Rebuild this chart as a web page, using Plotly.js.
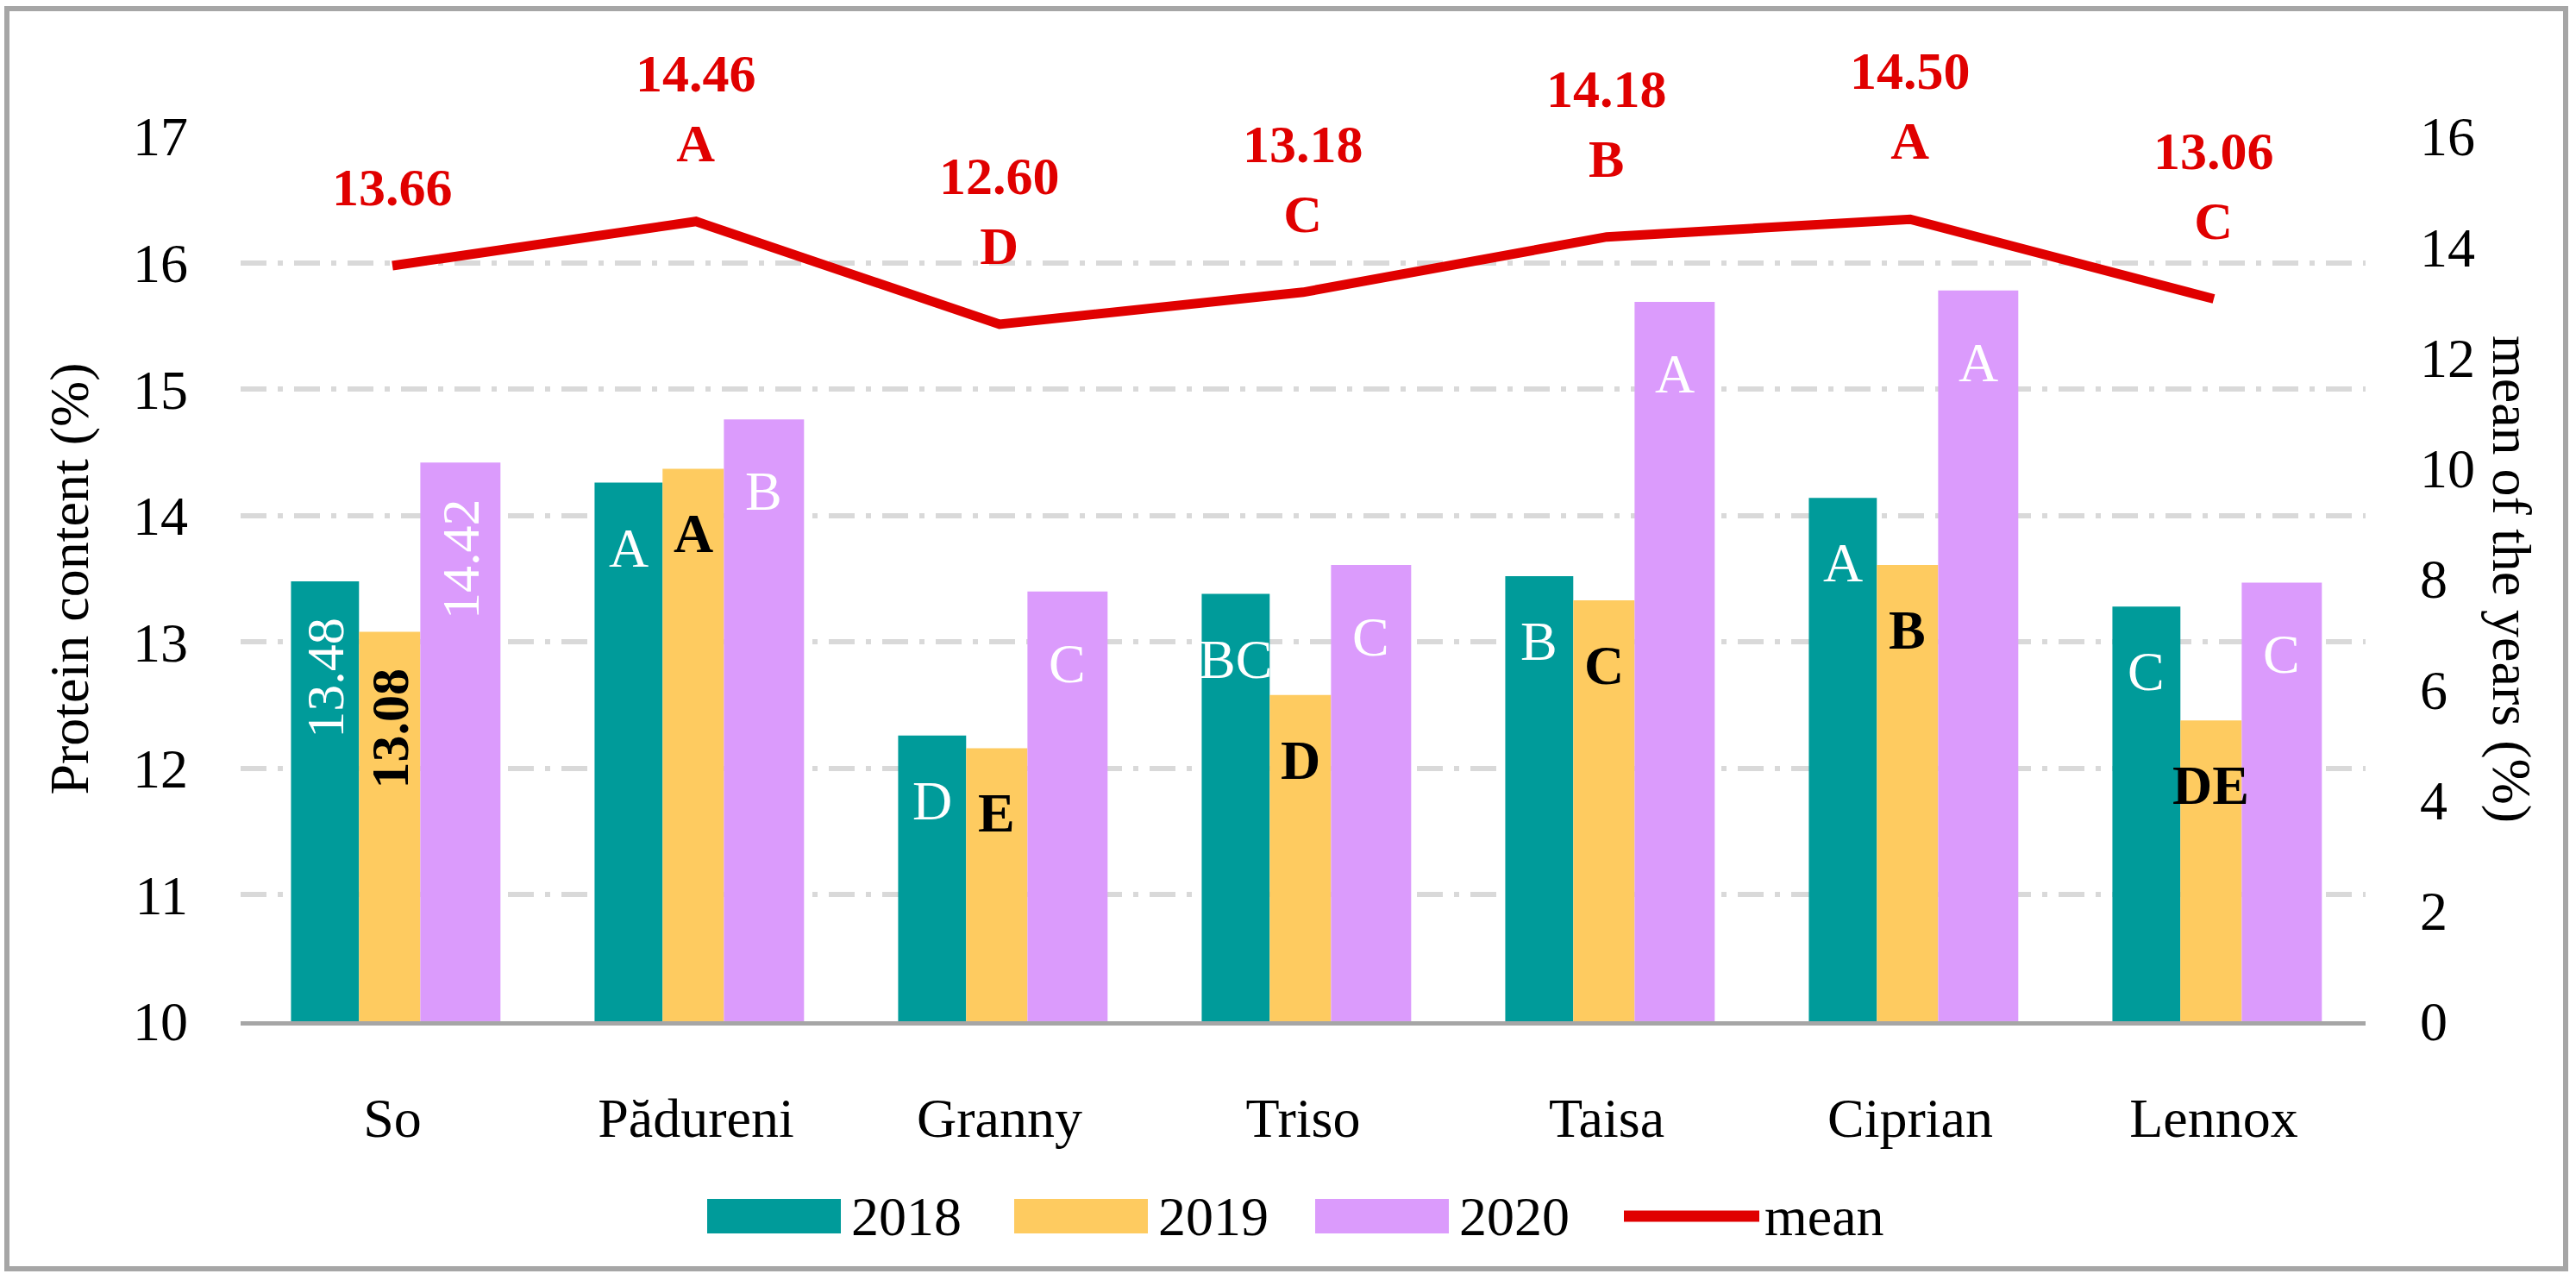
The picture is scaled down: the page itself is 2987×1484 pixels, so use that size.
<!DOCTYPE html>
<html>
<head>
<meta charset="utf-8">
<script src="https://cdn.plot.ly/plotly-3.0.1.min.js"></script>
<style>
  body { margin: 0; background: #fff; }
  #chart { width: 2987px; height: 1484px; }
</style>
</head>
<body>
<div id="chart"></div>
<script>
var categories = ['So', 'Pădureni', 'Granny', 'Triso', 'Taisa', 'Ciprian', 'Lennox'];
var years = ['2018', '2019', '2020'];
var protein2018 = [13.48, 14.26, 12.26, 13.38, 13.52, 14.14, 13.28];
var protein2019 = [13.08, 14.37, 12.16, 12.58, 13.33, 13.61, 12.38];
var protein2020 = [14.42, 14.76, 13.40, 13.61, 15.69, 15.78, 13.47];
var meanYears = [13.66, 14.46, 12.60, 13.18, 14.18, 14.50, 13.06];
// significance letters, null = the value itself is printed instead
var letters2018 = [null, 'A', 'D', 'BC', 'B', 'A', 'C'];
var letters2019 = [null, 'A', 'E', 'D', 'C', 'B', 'DE'];
var letters2020 = [null, 'B', 'C', 'C', 'A', 'A', 'C'];
var lettersMean = [null, 'A', 'D', 'C', 'B', 'A', 'C'];

var FONT = 'Palatino Linotype, Book Antiqua, Liberation Serif, serif';
var RED = '#e00000';

// plot area in pixels
var L = 279, T = 158, W = 2464, H = 1026;
function px(x) { return (x - L) / W; }
function py(y) { return (T + H - y) / H; }

var series = [
  {name: years[0], y: protein2018, letters: letters2018, color: '#009b9a', text: '#ffffff', bold: false, offset: -0.334, width: 0.224, shift: -38},
  {name: years[1], y: protein2019, letters: letters2019, color: '#fecb60', text: '#000000', bold: true, offset: -0.110, width: 0.202, shift: -38},
  {name: years[2], y: protein2020, letters: letters2020, color: '#db9bfc', text: '#ffffff', bold: false, offset: 0.092, width: 0.264, shift: -46}
];

var data = series.map(function (s) {
  return {
    type: 'bar',
    name: s.name,
    x: categories,
    y: s.y,
    offset: s.offset,
    width: s.width,
    marker: {color: s.color},
    hoverinfo: 'x+y+name'
  };
});

data.push({
  type: 'scatter',
  mode: 'lines',
  name: 'mean',
  x: categories,
  y: meanYears,
  yaxis: 'y2',
  line: {color: RED, width: 11},
  hoverinfo: 'x+y'
});

var annotations = [];
series.forEach(function (s) {
  var wt = s.bold ? 'bold' : 'normal';
  s.y.forEach(function (v, i) {
    var xc = i + s.offset + s.width / 2;
    if (s.letters[i] === null) {
      annotations.push({
        xref: 'x', yref: 'y', x: xc, y: v,
        text: v.toFixed(2), textangle: -90,
        xanchor: 'center', yanchor: 'top', yshift: -40,
        showarrow: false,
        font: {family: FONT, size: 62, color: s.text, weight: wt}
      });
    } else {
      annotations.push({
        xref: 'x', yref: 'y', x: xc, y: v,
        text: s.letters[i],
        xanchor: 'center', yanchor: 'top', yshift: s.shift,
        showarrow: false,
        font: {family: FONT, size: 64, color: s.text, weight: wt}
      });
    }
  });
});

meanYears.forEach(function (v, i) {
  var txt = '<b>' + v.toFixed(2) + '</b>';
  if (lettersMean[i]) txt += '<br><b>' + lettersMean[i] + '</b>';
  annotations.push({
    xref: 'x', yref: 'y2', x: i, y: v,
    text: txt,
    xanchor: 'center', yanchor: 'bottom', yshift: 55,
    showarrow: false,
    font: {family: FONT, size: 62, color: RED}
  });
});

// right axis title reads top to bottom
annotations.push({
  xref: 'paper', yref: 'paper', x: px(2913), y: 0.5,
  text: 'mean of the years (%)', textangle: 90,
  xanchor: 'center', yanchor: 'middle', showarrow: false,
  font: {family: FONT, size: 64, color: '#000'}
});

// legend drawn by hand to get the wide swatches
var shapes = [];
var legendX = [820, 1176, 1525, 1879];
var legendY = 1410;
var swW = 155, swH = 40;
var legendItems = series.map(function (s) { return {name: s.name, color: s.color, kind: 'box'}; });
legendItems.push({name: 'mean', color: RED, kind: 'line'});
legendItems.forEach(function (it, k) {
  var x0 = legendX[k];
  if (it.kind === 'box') {
    shapes.push({
      type: 'rect', xref: 'paper', yref: 'paper',
      x0: px(x0), x1: px(x0 + swW), y0: py(legendY + swH / 2), y1: py(legendY - swH / 2),
      fillcolor: it.color, line: {width: 0}
    });
  } else {
    shapes.push({
      type: 'line', xref: 'paper', yref: 'paper',
      x0: px(x0 + 4), x1: px(x0 + swW + 6), y0: py(legendY), y1: py(legendY),
      line: {color: it.color, width: 13}
    });
  }
  annotations.push({
    xref: 'paper', yref: 'paper', x: px(x0 + swW + 10), y: py(legendY),
    text: it.name, xanchor: 'left', yanchor: 'middle', showarrow: false,
    font: {family: FONT, size: 64, color: '#000'}
  });
});

// outer frame
shapes.push({
  type: 'rect', xref: 'paper', yref: 'paper',
  x0: px(8), x1: px(2975), y0: py(1471), y1: py(10),
  line: {color: '#a6a6a6', width: 6}, fillcolor: 'rgba(0,0,0,0)'
});

var layout = {
  width: 2987,
  height: 1484,
  margin: {l: L, r: 2987 - L - W, t: T, b: 1484 - T - H},
  paper_bgcolor: '#ffffff',
  plot_bgcolor: '#ffffff',
  showlegend: false,
  barmode: 'group',
  font: {family: FONT, size: 64, color: '#000'},
  xaxis: {
    type: 'category',
    showline: true,
    linecolor: '#a6a6a6',
    linewidth: 5,
    showgrid: false,
    ticks: '',
    ticklabelstandoff: 52,
    tickfont: {family: FONT, size: 64, color: '#000'}
  },
  yaxis: {
    range: [10, 17],
    dtick: 1,
    showline: false,
    zeroline: false,
    showgrid: true,
    gridcolor: '#d9d9d9',
    gridwidth: 6,
    griddash: '30px,13px,6px,13px',
    ticks: '',
    ticklabelstandoff: 60,
    tickfont: {family: FONT, size: 64, color: '#000'},
    title: {text: 'Protein content (%)', standoff: 30, font: {family: FONT, size: 64, color: '#000'}}
  },
  yaxis2: {
    overlaying: 'y',
    side: 'right',
    range: [0, 16],
    dtick: 2,
    showgrid: false,
    zeroline: false,
    showline: false,
    ticks: '',
    ticklabelstandoff: 62,
    tickfont: {family: FONT, size: 64, color: '#000'}
  },
  annotations: annotations,
  shapes: shapes
};

Plotly.newPlot('chart', data, layout, {displayModeBar: false, staticPlot: true});
</script>
</body>
</html>
